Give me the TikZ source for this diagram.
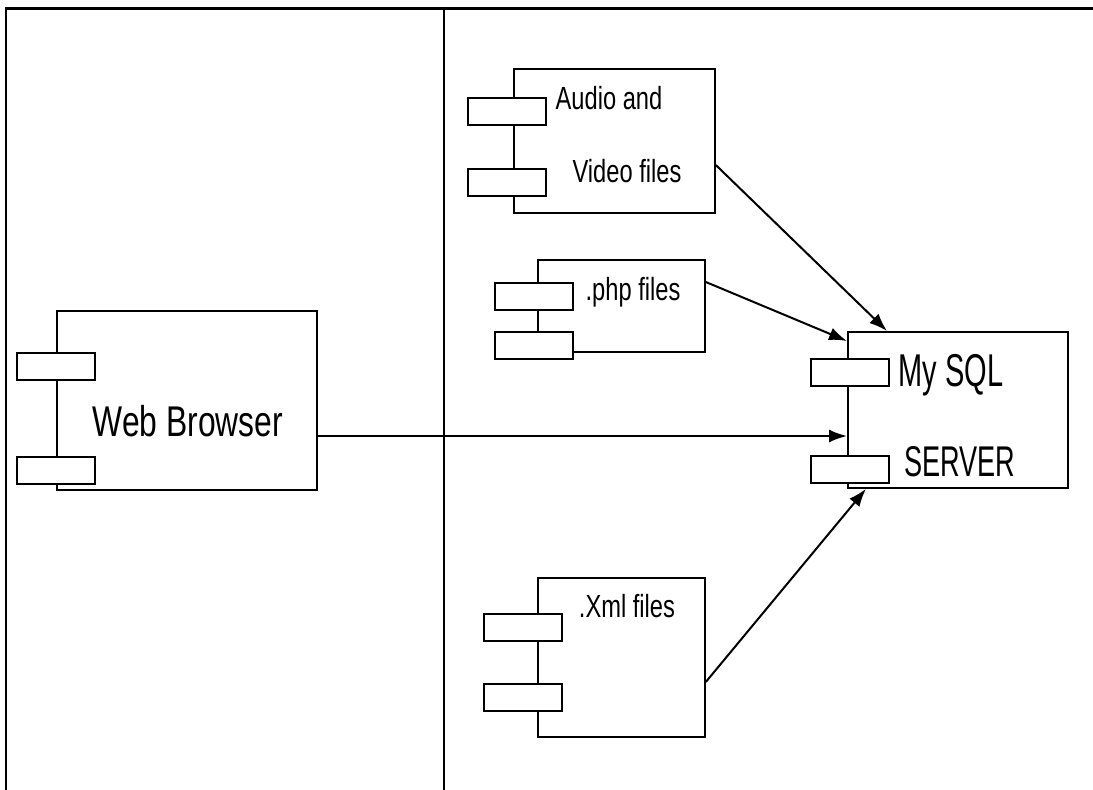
\documentclass[tikz,border=0pt]{standalone}
\usepackage{fontspec}
\setmainfont[FakeStretch=0.74]{Liberation Sans}
\newfontfamily\narrowfont[FakeStretch=0.63]{Liberation Sans}
\usetikzlibrary{arrows.meta,positioning,calc}

\begin{document}
\begin{tikzpicture}[x=1pt,y=-1pt,
  box/.style={draw,line width=1.8pt,anchor=north west,inner sep=0pt},
  port/.style={draw,line width=1.8pt,fill=white,anchor=north west,
    minimum width=78pt,minimum height=27pt,inner sep=0pt},
  small/.style={anchor=base,inner sep=0pt,font=\fontsize{32}{38}\selectfont},
  flow/.style={-{Latex[length=18pt,width=13pt]},line width=2pt}]
  \useasboundingbox (0,0) rectangle (1093,790);

  % Frame and swimlane divider
  \draw[line width=3pt] (1093,8) -- (6,8);
  \draw[line width=2.2pt] (6,7) -- (6,790);
  \draw[line width=2.2pt] (444,7) -- (444,790);

  % Component bodies
  \node[box,minimum width=201pt,minimum height=144pt] (audio) at (513,68) {};
  \node[box,minimum width=167pt,minimum height=92pt] (php) at (537,259) {};
  \node[box,minimum width=167pt,minimum height=159pt] (xml) at (537,577) {};
  \node[box,minimum width=260pt,minimum height=179pt] (web) at (56,310) {};
  \node[box,minimum width=220pt,minimum height=156pt] (sql) at (847,331) {};

  % Ports
  \foreach \n/\x/\ya/\yb in {audio/467/97/168, php/494/282/331, xml/483/613/683,
      web/16/352/456, sql/810/358/455} {
    \node[port] (\n-a) at (\x,\ya) {};
    \node[port] (\n-b) at (\x,\yb) {};
  }

  % Labels
  \node[small] (audio-t1) at (609,109) {Audio and};
  \node[small] (audio-t2) at (627,182) {Video files};
  \node[small] (php-t) at (633,300) {.php files};
  \node[small] (xml-t) at (627,617) {.Xml files};
  \node[anchor=base,inner sep=0pt,font=\fontsize{43}{50}\selectfont] (web-t) at (188,436) {Web Browser};
  \node[anchor=base,inner sep=0pt,font=\narrowfont\fontsize{46}{52}\selectfont] (sql-t1) at (951,386) {My SQL};
  \node[anchor=base,inner sep=0pt,font=\narrowfont\fontsize{43}{50}\selectfont] (sql-t2) at (960,476) {SERVER};

  % Connections
  \draw[flow] ($(web.north east)+(0,126)$) coordinate (w1) -- (w1 -| sql.west);
  \draw[flow] ($(audio.north east)+(0,97)$) -- ($(sql.north west)+(40,0)$);
  \draw[flow] ($(php.north east)+(0,23)$) -- ($(sql.north west)+(0,10)$);
  \draw[flow] ($(xml.north east)+(0,105)$) -- ($(sql.south west)+(19,0)$);
\end{tikzpicture}
\end{document}
